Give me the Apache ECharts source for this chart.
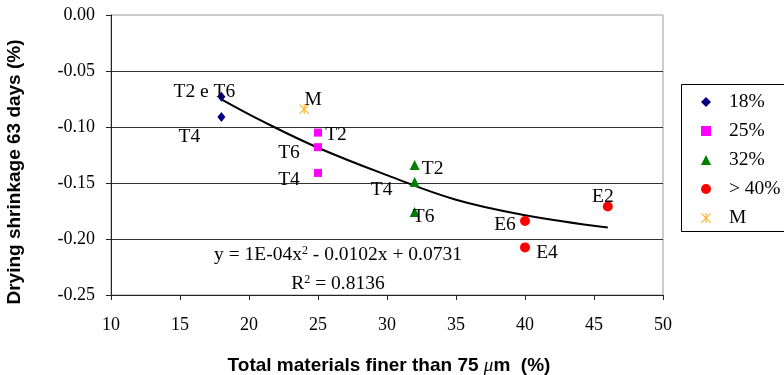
<!DOCTYPE html>
<html>
<head>
<meta charset="utf-8">
<script src="https://cdn.jsdelivr.net/npm/echarts@6/dist/echarts.min.js"></script>
<style>
  html, body { margin: 0; padding: 0; background: #fff; }
  #chart { width: 784px; height: 375px; }
</style>
</head>
<body>
<div id="chart"></div>
<script>
// Fines content (%) and 63-day drying shrinkage (%) for each mix group
const x18 = [18, 18];
const y18 = [-0.073, -0.091];
const n18 = ['T2 e T6', 'T4'];

const x25 = [25, 25, 25];
const y25 = [-0.105, -0.118, -0.141];
const n25 = ['T2', 'T6', 'T4'];

const x32 = [32, 32, 32];
const y32 = [-0.134, -0.149, -0.176];
const n32 = ['T2', 'T4', 'T6'];

const x40 = [40, 40, 46];
const y40 = [-0.184, -0.2075, -0.171];
const n40 = ['E6', 'E4', 'E2'];

const xM = [24];
const yM = [-0.084];
const nM = ['M'];

// Polynomial trend curve, sampled along the fitted line
const trendX = [18, 21, 25, 30, 35, 40, 46];
const trendY = [-0.0753, -0.095, -0.1185, -0.143, -0.165, -0.1787, -0.1897];

const groupNames = ['18%', '25%', '32%', '> 40%', 'M'];
const xTicks = { min: 10, max: 50, step: 5 };
const yTicks = { min: -0.25, max: 0, step: 0.05 };

const equationText = 'y = 1E-04x{sup|2} - 0.0102x + 0.0731';
const r2Text = 'R{sup|2} = 0.8136';

// Label placement (pixel offsets from each marker centre), per series in data order
const labelOffsets = [
  [[-17, -5], [-32, 20]],
  [[18, 2], [-29, 6], [-29, 7]],
  [[18, 4], [-33, 8], [9, 5]],
  [[-20, 4], [22, 5], [-5, -10]],
  [[9, -9]]
];

const SERIF = 'Liberation Serif';

const starPath = 'path://M4.4,0L5.6,0L5.6,10L4.4,10Z M0,0.8L0.8,0L10,9.2L9.2,10Z M9.2,0L10,0.8L0.8,10L0,9.2Z';

function scatter(name, xs, ys, names, symbol, size, color) {
  return {
    name: name,
    type: 'scatter',
    symbol: symbol,
    symbolSize: size,
    itemStyle: { color: color, opacity: 1 },
    z: 5,
    label: {
      show: true,
      position: 'inside',
      formatter: p => p.name,
      color: '#000',
      fontFamily: SERIF,
      fontSize: 19.5
    },
    emphasis: { disabled: true },
    data: xs.map((x, i) => ({ value: [x, ys[i]], name: names[i] }))
  };
}

const chart = echarts.init(document.getElementById('chart'), null, { renderer: 'canvas' });

chart.setOption({
  animation: false,
  backgroundColor: '#fff',
  grid: {
    left: 111, right: 121, top: 15, bottom: 80,
    show: true, borderColor: '#9a9a9a', borderWidth: 1
  },
  xAxis: {
    type: 'value',
    min: xTicks.min, max: xTicks.max, interval: xTicks.step,
    axisLine: { onZero: false, lineStyle: { color: '#222', width: 1 } },
    axisTick: { show: true, inside: false, length: 5, lineStyle: { color: '#222' } },
    axisLabel: { margin: 21, color: '#000', fontFamily: SERIF, fontSize: 18 },
    splitLine: { show: false }
  },
  yAxis: {
    type: 'value',
    min: yTicks.min, max: yTicks.max, interval: yTicks.step,
    axisLine: { show: true, onZero: false, lineStyle: { color: '#222', width: 1 } },
    axisTick: { show: true, inside: false, length: 5, lineStyle: { color: '#222' } },
    axisLabel: { margin: 16, color: '#000', fontFamily: SERIF, fontSize: 18,
      formatter: v => v.toFixed(2) },
    splitLine: { show: true, showMaxLine: false, showMinLine: false,
      lineStyle: { color: '#333', width: 1 } }
  },
  legend: {
    orient: 'vertical',
    left: 701, top: 92,
    padding: 0,
    itemGap: 9,
    itemWidth: 10, itemHeight: 10,
    selectedMode: false,
    data: groupNames,
    textStyle: { color: '#000', fontFamily: SERIF, fontSize: 19.5, lineHeight: 20, padding: [0, 0, 0, 13] }
  },
  labelLayout: function (params) {
    const off = (labelOffsets[params.seriesIndex] || [])[params.dataIndex];
    if (!off) return {};
    return { dx: off[0], dy: off[1], hideOverlap: false };
  },
  series: [
    scatter(groupNames[0], x18, y18, n18, 'diamond', [8, 10], '#000080'),
    scatter(groupNames[1], x25, y25, n25, 'rect', 8, '#ff00ff'),
    scatter(groupNames[2], x32, y32, n32, 'triangle', 10, '#008000'),
    scatter(groupNames[3], x40, y40, n40, 'circle', 10, '#ff0000'),
    scatter(groupNames[4], xM, yM, nM, starPath, 10, '#ffb62e'),
    {
      name: 'trend',
      type: 'line',
      smooth: 0.4,
      symbol: 'none',
      z: 4,
      lineStyle: { color: '#000', width: 2 },
      emphasis: { disabled: true },
      data: trendX.map((x, i) => [x, trendY[i]])
    }
  ],
  graphic: [
    {
      type: 'rect',
      shape: { x: 681.5, y: 84.5, width: 110, height: 147 },
      style: { fill: 'rgba(0,0,0,0)', stroke: '#000', lineWidth: 1 },
      z: 10
    },
    {
      type: 'text',
      x: 338, y: 255,
      style: {
        text: equationText,
        align: 'center', verticalAlign: 'middle',
        font: '19.5px "Liberation Serif"', fill: '#000',
        rich: { sup: { fontSize: 12, verticalAlign: 'top', padding: [0, 0, 8, 0], fontFamily: SERIF } }
      },
      z: 10
    },
    {
      type: 'text',
      x: 338, y: 284,
      style: {
        text: r2Text,
        align: 'center', verticalAlign: 'middle',
        font: '19.5px "Liberation Serif"', fill: '#000',
        rich: { sup: { fontSize: 12, verticalAlign: 'top', padding: [0, 0, 8, 0], fontFamily: SERIF } }
      },
      z: 10
    },
    {
      type: 'text',
      x: 389, y: 366,
      style: {
        text: 'Total materials finer than 75 {it|μ}m  (%)',
        align: 'center', verticalAlign: 'middle',
        font: 'bold 19px "Liberation Sans"', fill: '#000',
        rich: { it: { fontStyle: 'italic', fontWeight: 'normal', fontSize: 19, fontFamily: SERIF } }
      },
      z: 10
    },
    {
      type: 'text',
      x: 15, y: 172,
      rotation: Math.PI / 2,
      style: {
        text: 'Drying shrinkage 63 days (%)',
        align: 'center', verticalAlign: 'middle',
        font: 'bold 19px "Liberation Sans"', fill: '#000'
      },
      z: 10
    }
  ]
});
</script>
</body>
</html>
